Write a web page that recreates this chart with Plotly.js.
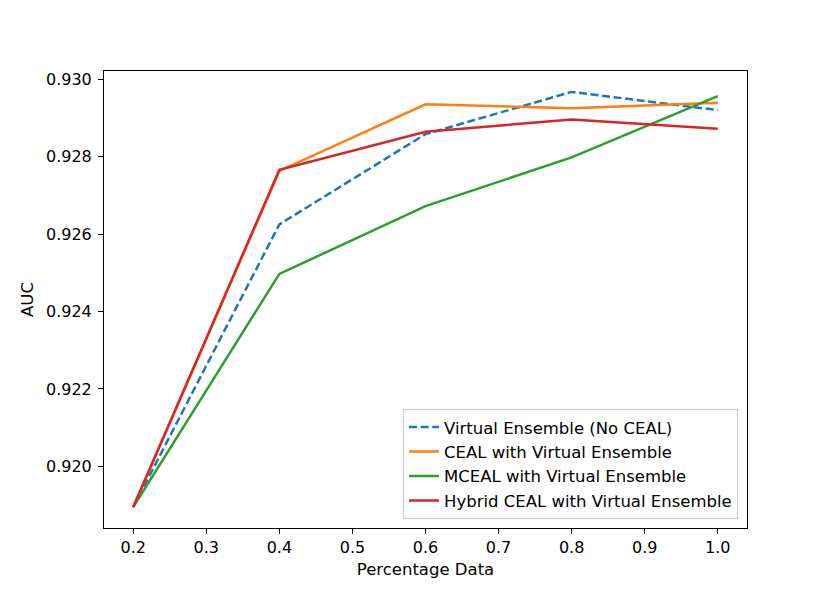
<!DOCTYPE html>
<html>
<head>
<meta charset="utf-8">
<script src="https://cdn.plot.ly/plotly-3.0.1.min.js"></script>
<style>
  body { margin: 0; background: #fff; }
  #chart { width: 830px; height: 593px; }
</style>
</head>
<body>
<div id="chart"></div>
<script>
// data
var pct = [0.2, 0.4, 0.6, 0.8, 1.0];
var ve_noceal = [0.91895, 0.92625, 0.92858, 0.92967, 0.92920];
var ceal_ve   = [0.91895, 0.92763, 0.92935, 0.92925, 0.92939];
var mceal_ve  = [0.91895, 0.92497, 0.92672, 0.92798, 0.92956];
var hybrid_ve = [0.91895, 0.92766, 0.92864, 0.92896, 0.92872];

var names = ["Virtual Ensemble (No CEAL)", "CEAL with Virtual Ensemble",
             "MCEAL with Virtual Ensemble", "Hybrid CEAL with Virtual Ensemble"];
var colors = ["#1f77b4", "#ff7f0e", "#2ca02c", "#d62728"];
var series = [ve_noceal, ceal_ve, mceal_ve, hybrid_ve];

var data = [];
for (var i = 0; i < series.length; i++) {
  data.push({
    x: pct,
    y: series[i],
    name: names[i],
    legendgroup: "g" + i,
    type: "scatter",
    mode: "lines",
    line: { color: colors[i], width: 2.5, dash: i == 0 ? "8px,3.6px" : "solid" }
  });
}

var fnt = { family: "DejaVu Sans", size: 16.5, color: "#000" };
var tickfnt = { family: "DejaVu Sans", size: 16, color: "#000" };

var layout = {
  width: 830,
  height: 593,
  margin: { l: 104, r: 83, t: 71, b: 65 },
  paper_bgcolor: "#fff",
  plot_bgcolor: "#fff",
  font: fnt,
  showlegend: true,
  legend: {
    x: 0.986, y: 0.02, xanchor: "right", yanchor: "bottom",
    bgcolor: "rgba(255,255,255,0.8)",
    bordercolor: "#cccccc", borderwidth: 1,
    font: fnt,
    traceorder: "grouped",
    tracegroupgap: 0
  },
  xaxis: {
    range: [0.16, 1.04],
    tickvals: [0.2, 0.3, 0.4, 0.5, 0.6, 0.7, 0.8, 0.9, 1.0],
    tickformat: ".1f",
    tickfont: tickfnt,
    ticks: "outside", ticklen: 5, tickwidth: 1, tickcolor: "#000",
    showgrid: false, zeroline: false,
    showline: true, linecolor: "#000", linewidth: 1, mirror: true,
    title: { text: "Percentage Data", font: fnt, standoff: 7 }
  },
  yaxis: {
    range: [0.91841, 0.93021],
    tickvals: [0.920, 0.922, 0.924, 0.926, 0.928, 0.930],
    tickformat: ".3f",
    tickfont: tickfnt,
    ticklabelstandoff: 3,
    ticks: "outside", ticklen: 5, tickwidth: 1, tickcolor: "#000",
    showgrid: false, zeroline: false,
    showline: true, linecolor: "#000", linewidth: 1, mirror: true,
    title: { text: "AUC", font: fnt, standoff: 8 }
  }
};

Plotly.newPlot("chart", data, layout, { displayModeBar: false, staticPlot: true });
</script>
</body>
</html>
